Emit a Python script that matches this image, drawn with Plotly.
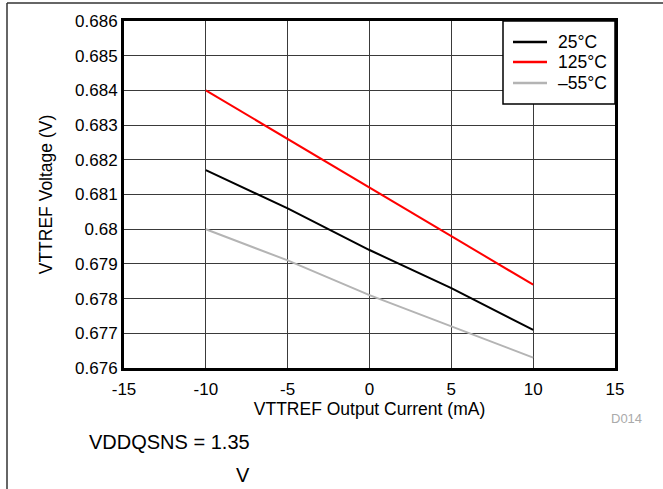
import plotly.graph_objects as go

current_ma = [-10, -5, 0, 5, 10]
v_25c = [0.6817, 0.6806, 0.6794, 0.6783, 0.6771]
v_125c = [0.6840, 0.6826, 0.6812, 0.6798, 0.6784]
v_m55c = [0.6800, 0.6791, 0.6781, 0.6772, 0.6763]
series_names = ["25°C", "125°C", "\u201355°C"]
series_colors = ["#000000", "#ff0000", "#b4b4b4"]
x_ticks = [-15, -10, -5, 0, 5, 10, 15]
y_ticks = [0.676, 0.677, 0.678, 0.679, 0.68, 0.681, 0.682, 0.683, 0.684, 0.685, 0.686]
y_tick_labels = ["0.676", "0.677", "0.678", "0.679", "0.68", "0.681", "0.682", "0.683", "0.684", "0.685", "0.686"]

FONT = "Liberation Sans, Arial, sans-serif"
W, H = 663, 489
L, R, T, B = 124, 48, 21, 121
pw, ph = W - L - R, H - T - B

def px_x(p):
    return (p - L) / pw

def px_y(p):
    return 1 - (p - T) / ph

fig = go.Figure()
for name, vals, col in zip(series_names, [v_25c, v_125c, v_m55c], series_colors):
    fig.add_trace(go.Scatter(x=current_ma, y=vals, mode="lines", name=name,
                             line=dict(color=col, width=2), showlegend=False,
                             hoverinfo="skip"))

fig.update_layout(
    width=W, height=H,
    margin=dict(l=L, r=R, t=T, b=B),
    paper_bgcolor="white", plot_bgcolor="white",
    font=dict(family=FONT, size=17, color="black"),
    showlegend=False,
    xaxis=dict(range=[-15, 15], tickvals=x_ticks, ticktext=[str(v) for v in x_ticks],
               showgrid=True, gridcolor="#3a3a3a", gridwidth=1, zeroline=False,
               showline=True, linecolor="black", linewidth=3, mirror=True,
               ticks="", ticklen=0, tickfont=dict(family=FONT, size=17),
               ticklabelstandoff=4,
               title=dict(text="VTTREF Output Current (mA)", standoff=0,
                          font=dict(family=FONT, size=17.5))),
    yaxis=dict(range=[0.676, 0.686], tickvals=y_ticks, ticktext=y_tick_labels,
               showgrid=True, gridcolor="#3a3a3a", gridwidth=1, zeroline=False,
               showline=True, linecolor="black", linewidth=3, mirror=True,
               ticks="", ticklen=0, tickfont=dict(family=FONT, size=17),
               title=dict(text="VTTREF Voltage (V)", standoff=18,
                          font=dict(family=FONT, size=17.5))),
)

# legend box
fig.add_shape(type="rect", xref="paper", yref="paper",
              x0=px_x(503), x1=1, y0=px_y(104), y1=1,
              fillcolor="white", line=dict(color="black", width=1.5), layer="above")
legend_y = [42, 62, 83]
for name, col, yy in zip(series_names, series_colors, legend_y):
    fig.add_shape(type="line", xref="paper", yref="paper",
                  x0=px_x(513), x1=px_x(547), y0=px_y(yy), y1=px_y(yy),
                  line=dict(color=col, width=2.5), layer="above")
    fig.add_annotation(text=name, xref="paper", yref="paper", x=px_x(556), y=px_y(yy),
                       xanchor="left", yanchor="middle", showarrow=False,
                       font=dict(family=FONT, size=17.5, color="black"))

# outer frame (left and top)
fig.add_shape(type="line", xref="paper", yref="paper",
              x0=px_x(7), x1=px_x(7), y0=px_y(H + 5), y1=px_y(3),
              line=dict(color="#333333", width=1.5))
fig.add_shape(type="line", xref="paper", yref="paper",
              x0=px_x(7), x1=px_x(W + 5), y0=px_y(3), y1=px_y(3),
              line=dict(color="#333333", width=1.5))

fig.add_annotation(text="D014", xref="paper", yref="paper", x=px_x(626), y=px_y(419),
                   xanchor="center", yanchor="middle",
                   showarrow=False, font=dict(family=FONT, size=13, color="#aaaaaa"))
fig.add_annotation(text="VDDQSNS = 1.35", xref="paper", yref="paper", x=px_x(87), y=px_y(442),
                   xanchor="left", yanchor="middle",
                   showarrow=False, font=dict(family=FONT, size=20, color="black"))
fig.add_annotation(text="V", xref="paper", yref="paper", x=px_x(243), y=px_y(475),
                   xanchor="center", yanchor="middle",
                   showarrow=False, font=dict(family=FONT, size=20, color="black"))

fig.write_html("out.html", post_script="document.body.style.margin='0px';",
               config={"displayModeBar": False})
